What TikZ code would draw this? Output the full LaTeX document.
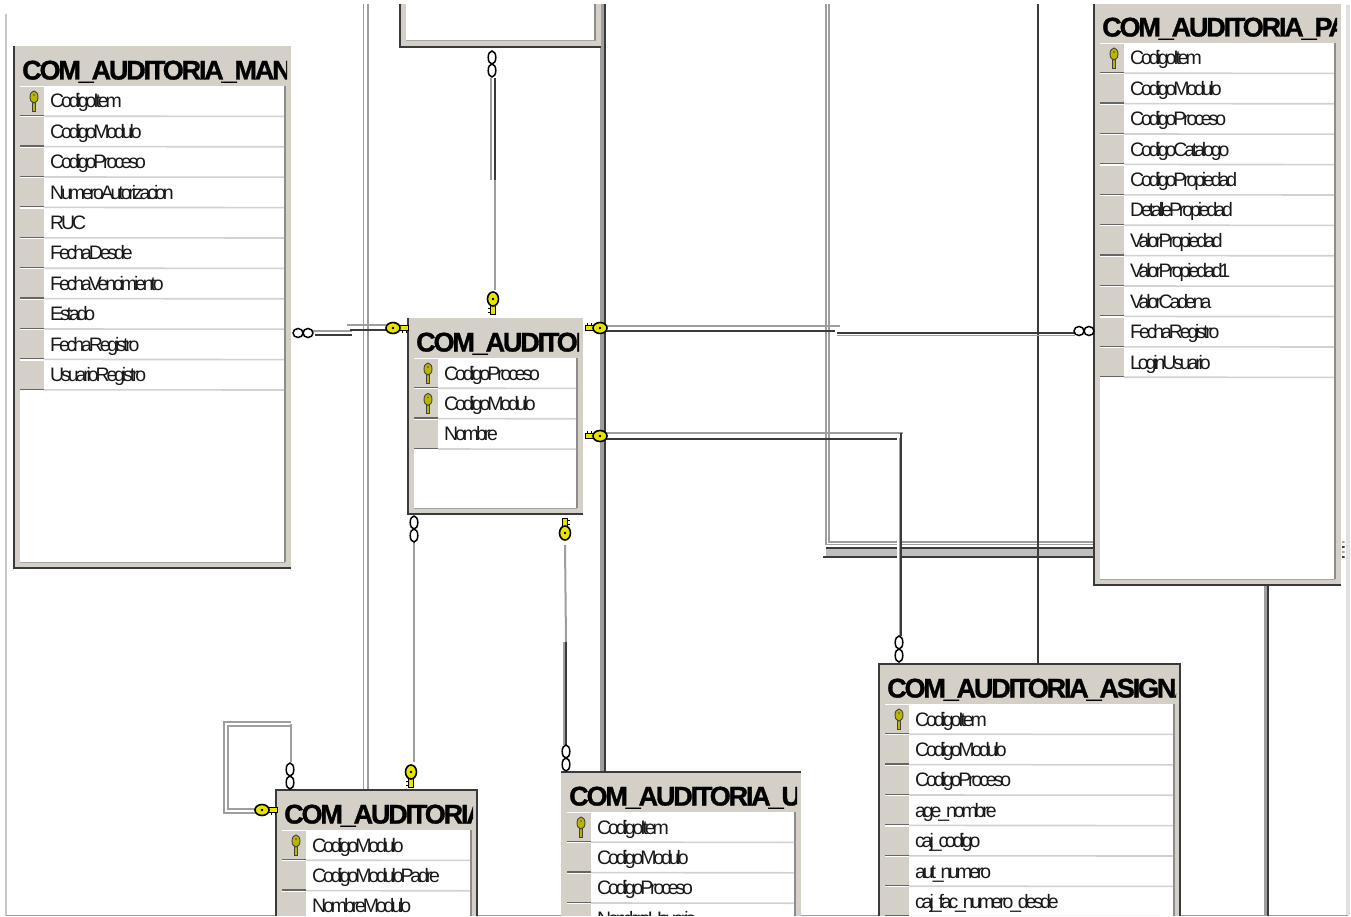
\documentclass[tikz,border=0pt]{standalone}
\usepackage{fontspec}
\usetikzlibrary{arrows.meta,positioning,calc}
\newfontfamily\rowfont[LetterSpace=-16]{Liberation Sans}
\newfontfamily\titlefont[LetterSpace=-8,FakeBold=1.2]{Liberation Sans Bold}
\definecolor{dbgray}{HTML}{D4D0C8}
\definecolor{dbdark}{HTML}{3A3A3A}
\definecolor{dbkey}{HTML}{E8E400}
\tikzset{
  tablebox/.style={fill=dbgray, inner sep=0pt, outer sep=0pt, anchor=north west},
  tabletitle/.style={anchor=west, inner sep=0pt, text height=20pt, text depth=6pt, font=\titlefont\fontsize{27}{27}\selectfont, text=black},
  rowtext/.style={anchor=west, inner sep=0pt, text height=14pt, text depth=4pt, font=\rowfont\fontsize{19.5}{20}\selectfont, text=black!90},
  tableedge/.style={draw=dbdark, line width=1.8pt},
  relgray/.style={draw=black!38, line width=1.8pt, double=white, double distance=2.4pt},
  reldark/.style={draw=dbdark, line width=2.2pt},
  relthin/.style={draw=black!38, line width=2pt},
  pics/fkkey/.style={code={
    \fill[dbkey, draw=black, line width=.8pt] (5,-2.2) rectangle (15,2.2);
    \draw[black, line width=1pt] (9,2.2) -- (9,5) (13,2.2) -- (13,5);
    \fill[dbkey, draw=black, line width=1.6pt] (0,0) ellipse (7pt and 5.5pt);
    \fill[black] (0,0) circle (1.3pt);
  }},
  pics/manyend/.style={code={
    \draw[black, line width=1.5pt, fill=white] (-5,0) ellipse (5pt and 4.5pt);
    \draw[black, line width=1.5pt, fill=white] (5,0) ellipse (5pt and 4.5pt);
  }},
  pics/manyendv/.style={code={
    \draw[black, line width=1.5pt, fill=white] (0,-6.5) ellipse (3.8pt and 6.5pt);
    \draw[black, line width=1.5pt, fill=white] (0,6.5) ellipse (3.8pt and 6.5pt);
  }},
  pics/pkkey/.style={code={
    \fill[dbkey!80!black, draw=black!75, line width=.8pt] (-1.6,-2) rectangle (1.6,10);
    \fill[dbkey!80!black, draw=black!75, line width=.9pt] (0,-4) ellipse (4pt and 6pt);
    \fill[black!70] (0,-6) circle (.8pt);
  }},
}
% name, x, y, width, height, title, rows
\newcommand{\dbtable}[7]{%
  \node[tablebox, minimum width=#4pt, minimum height=#5pt] (#1) at (#2,#3) {};
  \fill[white] ($(#1.north west)+(6,40)$) rectangle ($(#1.south east)+(-6,-6)$);
  \draw[black!45, line width=1.6pt] ($(#1.north east)+(-6,40)$) -- ($(#1.south east)+(-6,-6)$);
  \draw[black!35, line width=1pt] ($(#1.south west)+(6,-6)$) -- ($(#1.south east)+(-6,-6)$);
  \begin{scope}
    \clip ($(#1.north west)+(2,2)$) rectangle ($(#1.north east)+(-4,40)$);
    \node[tabletitle] (#1-title) at ($(#1.north west)+(8,26.5)$) {#6};
  \end{scope}
  \foreach \rowname [count=\i] in {#7} {
    \coordinate (#1-box) at ($(#1.north west)+(6,40+30.4*\i-30.4)$);
    \fill[dbgray] ($(#1-box)+(0,1)$) rectangle ($(#1-box)+(24,29.4)$);
    \draw[black!60, line width=1.1pt] ($(#1-box)+(0,29.6)$) -- ($(#1-box)+(24,29.6)$);
    \draw[black!18, line width=1.6pt] ($(#1-box)+(24,30.2)$) -- ($(#1.north east)+(-7,40+30.4*\i)$);
    \node[rowtext] (#1-row\i) at ($(#1-box)+(30,17)$) {\rowname};
  }
}
\begin{document}
\begin{tikzpicture}[x=1pt,y=-1pt]
    \useasboundingbox (0,0) rectangle (1351,917);
    \fill[white] (0,0) rectangle (1351,917);

    % Sheet edge
    \draw[black!22, line width=2pt] (6,14) -- (6,915.5);
    \draw[black!38, line width=1.5pt] (6,915.5) -- (1348,915.5);
    \draw[black!12, line width=4pt] (1348,5) -- (1348,915);
    \clip (7,5) rectangle (1344.5,915);

    % Ends of the relations
    \coordinate (topBox) at (495,78);
    \coordinate (topMid) at (495,180);
    \coordinate (centralTopKey) at (495,290);
    \coordinate (mantenMany) at (312,331);
    \coordinate (mantenStep) at (352,331);
    \coordinate (centralLeftStep) at (347,325);
    \coordinate (centralLeftKey) at (388,325);
    \coordinate (centralRightKey) at (604,326);
    \coordinate (paraStep) at (840,326);
    \coordinate (paraStart) at (837,333);
    \coordinate (paraMany) at (1075,333);
    \coordinate (centralLowKey) at (604,433);
    \coordinate (asigCorner) at (903,433);
    \coordinate (asigTop) at (901,433);
    \coordinate (asigMany) at (901,636);
    \coordinate (centralManyLow) at (414,542);
    \coordinate (moduloKey) at (414,762);
    \coordinate (centralKeyLow) at (565,545);
    \coordinate (usuThick) at (566,642);
    \coordinate (usuMany) at (566,745);
    \coordinate (loopKey) at (256,811);
    \coordinate (loopA) at (226,811);
    \coordinate (loopB) at (226,724);
    \coordinate (loopC) at (291,724);
    \coordinate (loopMany) at (291,762);

    % Long lines behind the tables
    \draw[relgray] (365.5,0) -- (365.5,800);
    \draw[relgray, double distance=1pt] (827.5,0) -- (827.5,543) -- (1100,543);
    \draw[relthin, line width=3.6pt] (601.8,0) -- (601.8,780);
    \draw[reldark] (605,0) -- (605,780);
    \draw[draw=black!25, line width=8pt] (826,552.5) -- (1100,552.5);
    \draw[reldark] (826,548) -- (1100,548);
    \draw[reldark] (823,557) -- (1100,557);
    \draw[white, line width=3pt] (898,538) -- (898,560);
    \draw[reldark] (1038,0) -- (1038,670);
    \draw[relthin, line width=2.5pt] (1265.5,580) -- (1265.5,920);
    \draw[reldark] (1268,580) -- (1268,920);
    \draw[draw=black!35, line width=1.5pt] (1342,542) -- (1346,542) (1342,552) -- (1346,552);
    \draw[reldark] (1342,547) -- (1346,547) (1342,557) -- (1346,557);

    % Relations of the central table
    \draw[relthin] (491,78) -- (491,180);
    \draw[reldark] (topBox) -- (topMid);
    \draw[relthin] (topMid) -- (centralTopKey);
    \draw[relthin] (mantenMany) -- (mantenStep);
    \draw[reldark] (315,335) -- (352,335);
    \draw[relthin] (centralLeftStep) -- (centralLeftKey);
    \draw[reldark] (350,330) -- (388,330);
    \draw[relthin] (centralRightKey) -- (paraStep);
    \draw[reldark] (604,331) -- (835,331);
    \draw[reldark, line width=2.6pt] (paraStart) -- (paraMany);
    \draw[relthin, line width=1.6pt] (837,335.5) -- (1075,335.5);
    \draw[relthin] (centralLowKey) -- (asigCorner);
    \draw[reldark] (604,439) -- (897,439);
    \draw[reldark] (asigTop) -- (asigMany);
    \draw[relthin, line width=1.6pt] (899.3,438) -- (899.3,636);
    \draw[relthin] (centralManyLow) -- (moduloKey);
    \draw[relthin] (centralKeyLow) -- (usuThick);
    \draw[relthin] (564,642) -- (564,745);
    \draw[reldark] (usuThick) -- (usuMany);

    % Self relation of the modulo table
    \draw[relgray] (loopKey) -- (loopA) -- (loopB) -- (loopC);
    \draw[relthin] (loopC) -- (loopMany);

    % Tables
    \dbtable{topTable}{400}{-40}{201}{87}{}{}
    \dbtable{tblManten}{14}{46}{277}{522}{COM\_AUDITORIA\_MANTENIMIENTO}{CodigoItem,CodigoModulo,CodigoProceso,NumeroAutorizacion,RUC,FechaDesde,FechaVencimiento,Estado,FechaRegistro,UsuarioRegistro}
    \dbtable{tblCentral}{408}{318}{175}{196}{COM\_AUDITORIA\_PROCESO}{CodigoProceso,CodigoModulo,Nombre}
    \dbtable{tblPara}{1094}{3}{247}{582}{COM\_AUDITORIA\_PARAMETRO}{CodigoItem,CodigoModulo,CodigoProceso,CodigoCatalogo,CodigoPropiedad,DetallePropiedad,ValorPropiedad,ValorPropiedad1,ValorCadena,FechaRegistro,LoginUsuario}
    \dbtable{tblModulo}{276}{790}{201}{300}{COM\_AUDITORIA\_MODULO}{CodigoModulo,CodigoModuloPadre,NombreModulo}
    \dbtable{tblUsu}{561}{772}{240}{300}{COM\_AUDITORIA\_USUARIO}{CodigoItem,CodigoModulo,CodigoProceso,NombreUsuario}
    \dbtable{tblAsig}{879}{664}{301}{400}{COM\_AUDITORIA\_ASIGNACION}{CodigoItem,CodigoModulo,CodigoProceso,age\_nombre,caj\_codigo,aut\_numero,caj\_fac\_numero\_desde}

    % Dark edges of the tables
    \draw[tableedge] (topTable.north west) -- (topTable.south west) -- (topTable.south east);
    \draw[tableedge] (tblManten.north west) -- (tblManten.south west) -- (tblManten.south east);
    \draw[tableedge] (tblCentral.north west) -- (tblCentral.south west) -- (tblCentral.south east);
    \draw[tableedge] (tblPara.north west) -- (tblPara.south west) -- (tblPara.south east);
    \draw[tableedge] (tblModulo.south west) -- (tblModulo.north west) -- (tblModulo.north east) -- (tblModulo.south east);
    \draw[tableedge] (tblUsu.north west) -- (tblUsu.north east);
    \draw[tableedge] (tblAsig.south west) -- (tblAsig.north west) -- (tblAsig.north east) -- (tblAsig.south east);

    % Primary keys in the rows
    \foreach \tbl in {tblManten,tblCentral,tblPara,tblModulo,tblUsu,tblAsig} {
        \pic at ($(\tbl-row1.west)+(-16,-2)$) {pkkey};
    }
    \pic at ($(tblCentral-row2.west)+(-16,-2)$) {pkkey};

    % Key and many ends
    \pic[rotate=-90] at (493,299) {fkkey};
    \pic at (393,328) {fkkey};
    \pic[rotate=180] at (600,328) {fkkey};
    \pic[rotate=180] at (600,436) {fkkey};
    \pic[rotate=90] at (565,533) {fkkey};
    \pic[rotate=-90] at (411,772) {fkkey};
    \pic at (262,810) {fkkey};
    \pic at (303,333) {manyend};
    \pic at (1084,331) {manyend};
    \pic at (492,64) {manyendv};
    \pic at (414,529) {manyendv};
    \pic at (566,758) {manyendv};
    \pic at (290,776) {manyendv};
    \pic at (899,649) {manyendv};
\end{tikzpicture}
\end{document}
